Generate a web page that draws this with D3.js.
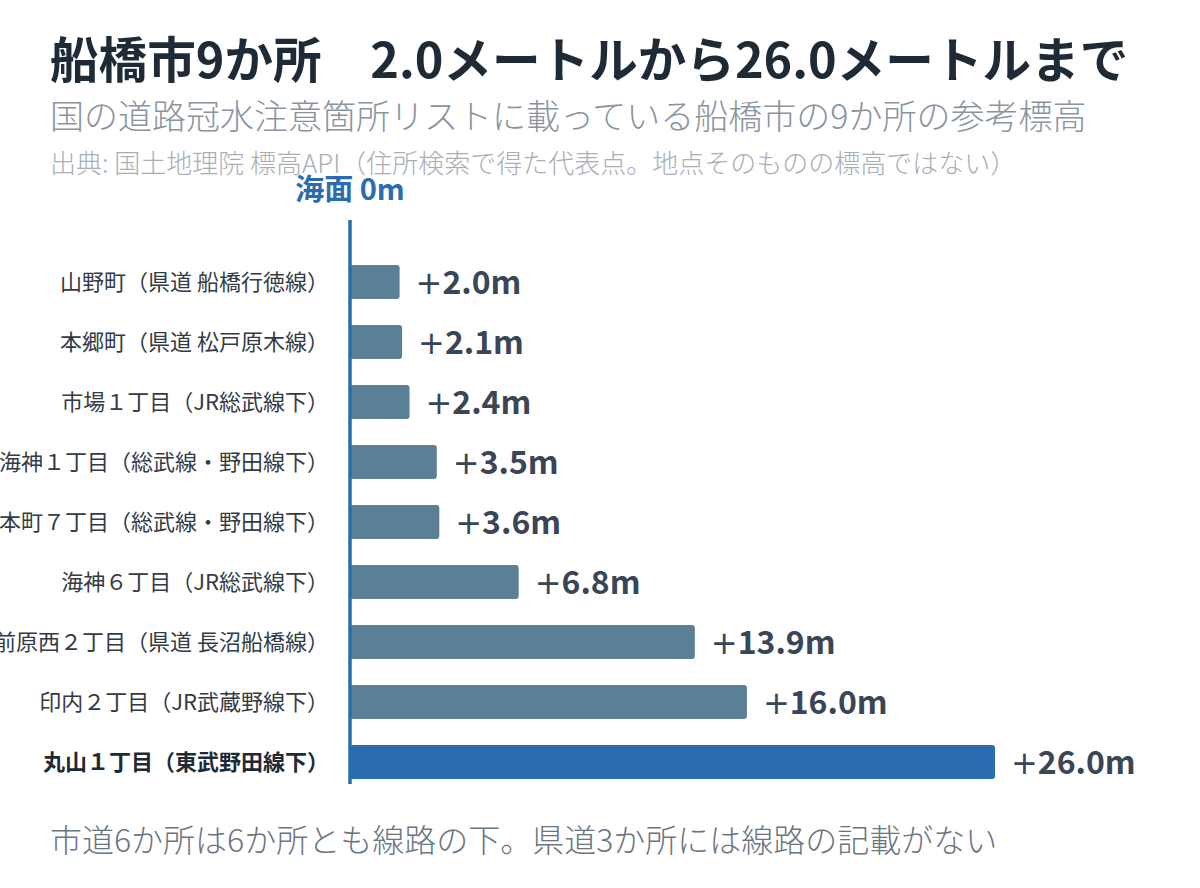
<!DOCTYPE html>
<html>
<head>
<meta charset="utf-8">
<script src="https://cdn.jsdelivr.net/npm/d3@7"></script>
<style>
  body { margin: 0; background: #fff; }
  svg { display: block; font-family: "Noto Sans CJK JP", "Noto Sans", sans-serif; }
</style>
</head>
<body>
<svg id="chart" width="1200" height="888"></svg>
<script>
const places = [
  '山野町（県道 船橋行徳線）',
  '本郷町（県道 松戸原木線）',
  '市場１丁目（JR総武線下）',
  '海神１丁目（総武線・野田線下）',
  '本町７丁目（総武線・野田線下）',
  '海神６丁目（JR総武線下）',
  '前原西２丁目（県道 長沼船橋線）',
  '印内２丁目（JR武蔵野線下）',
  '丸山１丁目（東武野田線下）'
]
const heights = [2.0, 2.1, 2.4, 3.5, 3.6, 6.8, 13.9, 16.0, 26.0]
const highlight = '丸山１丁目（東武野田線下）'

const title = '船橋市9か所　2.0メートルから26.0メートルまで'
const subtitle = '国の道路冠水注意箇所リストに載っている船橋市の9か所の参考標高'
const source = '出典: 国土地理院 標高API（住所検索で得た代表点。地点そのものの標高ではない）'
const note = '市道6か所は6か所とも線路の下。県道3か所には線路の記載がない'

const data = places.map((p, i) => ({ place: p, value: heights[i] }))

const svg = d3.select('#chart')

const x = d3.scaleLinear().domain([0, 26]).range([350, 995])
const y = d3.scaleBand().domain(places).range([252, 792]).paddingInner(0.43).paddingOuter(0.215)

// header
svg.append('text').attr('x', 50).attr('y', 78)
  .attr('font-size', 48.6).attr('font-weight', 700).attr('fill', '#1f2a37')
  .text(title)
svg.append('text').attr('x', 50).attr('y', 129)
  .attr('font-size', 34).attr('font-weight', 300).attr('fill', '#8a949f')
  .text(subtitle)
svg.append('text').attr('x', 50).attr('y', 173)
  .attr('font-size', 26).attr('font-weight', 300).attr('fill', '#a7aeb6')
  .text(source)

// bars
svg.append('g').selectAll('rect')
  .data(data)
  .join('rect')
    .attr('x', x(0))
    .attr('y', d => y(d.place))
    .attr('width', d => x(d.value) - x(0))
    .attr('height', y.bandwidth())
    .attr('rx', 3)
    .attr('fill', d => d.place === highlight ? '#2b6cb0' : '#5b7f95')

// sea level axis
svg.append('line')
  .attr('x1', x(0)).attr('x2', x(0))
  .attr('y1', 220).attr('y2', 784)
  .attr('stroke', '#2b6cb0').attr('stroke-width', 3.5)
svg.append('text').attr('x', x(0)).attr('y', 200)
  .attr('text-anchor', 'middle')
  .attr('font-size', 29).attr('font-weight', 700).attr('fill', '#2b6cb0')
  .text('海面 0m')

// category labels
svg.append('g').selectAll('text')
  .data(data)
  .join('text')
    .attr('x', 329)
    .attr('y', d => y(d.place) + y.bandwidth() / 2)
    .attr('dy', '0.36em')
    .attr('text-anchor', 'end')
    .attr('font-size', 22)
    .attr('font-weight', d => d.place === highlight ? 700 : 400)
    .attr('fill', d => d.place === highlight ? '#1f2a37' : '#333b45')
    .text(d => d.place)

// value labels
const vl = svg.append('g').selectAll('text')
  .data(data)
  .join('text')
    .attr('x', d => x(d.value) + 16)
    .attr('y', d => y(d.place) + y.bandwidth() / 2)
    .attr('dy', '0.36em')
    .attr('font-size', 32)
    .attr('fill', '#3a4556')
vl.append('tspan').attr('font-family', '"DejaVu Sans", sans-serif').attr('font-weight', 400).text('+')
vl.append('tspan').attr('font-weight', 700).text(d => d.value.toFixed(1) + 'm')

// footnote
svg.append('text').attr('x', 50).attr('y', 852)
  .attr('font-size', 32).attr('font-weight', 300).attr('fill', '#6b7580')
  .text(note)
</script>
</body>
</html>
